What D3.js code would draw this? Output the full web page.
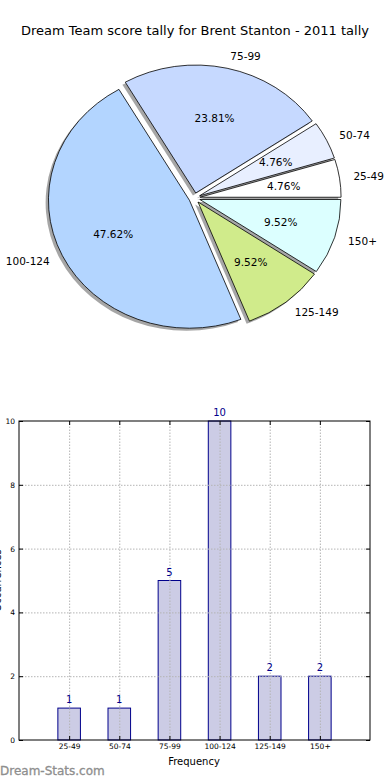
<!DOCTYPE html>
<html>
<head>
<meta charset="utf-8">
<script src="https://cdn.jsdelivr.net/npm/d3@7"></script>
<style>
  body { margin: 0; background: #fff; }
  svg { display: block; font-family: "DejaVu Sans", sans-serif; }
</style>
</head>
<body>
<svg id="chart"></svg>
<script>
// data
const categories = ["25-49", "50-74", "75-99", "100-124", "125-149", "150+"];
const counts = [1, 1, 5, 10, 2, 2];
const sliceColors = ["#ffffff", "#e8efff", "#c6d9ff", "#b3d5ff", "#d0eb8b", "#dcffff"];
const yTicks = [0, 2, 4, 6, 8, 10];

const width = 390;
const height = 780;

const svg = d3.select("#chart").attr("width", width).attr("height", height);

// title
svg.append("text")
  .attr("x", 195)
  .attr("y", 35)
  .attr("text-anchor", "middle")
  .attr("font-size", "13px")
  .attr("fill", "#000")
  .text("Dream Team score tally for Brent Stanton - 2011 tally");

/* ---------- pie ---------- */
const pieCx = 194.5, pieCy = 198;
const rx = 141, ry = 128;
const explode = 0.04;
const total = d3.sum(counts);

// start at 3 o'clock and go counter-clockwise, like matplotlib
const pie = d3.pie().sort(null).startAngle(Math.PI / 2).endAngle(Math.PI / 2 - 2 * Math.PI);
const arcs = pie(counts);
const arc = d3.arc().innerRadius(0).outerRadius(1);

const dir = d => {
  const a = (d.startAngle + d.endAngle) / 2;
  return [Math.sin(a), -Math.cos(a)];
};

const pieG = svg.append("g").attr("transform", `translate(${pieCx},${pieCy}) scale(${rx},${ry})`);

// shadows first, under every wedge
pieG.selectAll(".shadow")
  .data(arcs)
  .enter()
  .append("path")
  .attr("class", "shadow")
  .attr("transform", d => {
    const [ux, uy] = dir(d);
    return `translate(${ux * explode - 0.02},${uy * explode + 0.02})`;
  })
  .attr("d", arc)
  .attr("fill", "#4d4d4d")
  .attr("fill-opacity", 0.5);

pieG.selectAll(".wedge")
  .data(arcs)
  .enter()
  .append("path")
  .attr("class", "wedge")
  .attr("transform", d => {
    const [ux, uy] = dir(d);
    return `translate(${ux * explode},${uy * explode})`;
  })
  .attr("d", arc)
  .attr("fill", (d, i) => sliceColors[i])
  .attr("stroke", "#000")
  .attr("stroke-width", 0.8)
  .attr("vector-effect", "non-scaling-stroke");

// outer labels
svg.selectAll(".pie-label")
  .data(arcs)
  .enter()
  .append("text")
  .attr("class", "pie-label")
  .attr("x", d => pieCx + dir(d)[0] * (1.1 + explode) * rx)
  .attr("y", d => pieCy + dir(d)[1] * (1.1 + explode) * ry)
  .attr("text-anchor", d => dir(d)[0] > 0 ? "start" : "end")
  .attr("dominant-baseline", "central")
  .attr("font-size", "10.5px")
  .text((d, i) => categories[i]);

// percentages
svg.selectAll(".pct-label")
  .data(arcs)
  .enter()
  .append("text")
  .attr("class", "pct-label")
  .attr("x", d => pieCx + dir(d)[0] * (0.6 + explode) * rx)
  .attr("y", d => pieCy + dir(d)[1] * (0.6 + explode) * ry)
  .attr("text-anchor", "middle")
  .attr("dominant-baseline", "central")
  .attr("font-size", "10.5px")
  .text(d => `${(d.value / total * 100).toFixed(2)}%`);

/* ---------- bar chart ---------- */
const plot = { left: 19, right: 370, top: 421, bottom: 740 };

const xScale = d3.scaleLinear().domain([0, 7]).range([plot.left, plot.right]);
const yScale = d3.scaleLinear().domain([0, 10]).range([plot.bottom, plot.top]);
const barW = xScale(0.45) - xScale(0);

const barG = svg.append("g");

barG.selectAll(".bar")
  .data(counts)
  .enter()
  .append("rect")
  .attr("class", "bar")
  .attr("x", (d, i) => xScale(i + 1) - barW / 2)
  .attr("y", d => yScale(d))
  .attr("width", barW)
  .attr("height", d => yScale(0) - yScale(d))
  .attr("fill", "#cccce5")
  .attr("stroke", "#00008b")
  .attr("stroke-width", 1);

// grid lines on top of the bars
barG.append("g")
  .attr("transform", `translate(0,${plot.bottom})`)
  .call(d3.axisBottom(xScale)
    .tickValues(d3.range(1, 7))
    .tickSize(-(plot.bottom - plot.top))
    .tickFormat(""))
  .call(g => g.select(".domain").remove())
  .call(g => g.selectAll("line")
    .attr("stroke", "#b4b4b4")
    .attr("stroke-dasharray", "1.5,1.5"));

barG.append("g")
  .attr("transform", `translate(${plot.left},0)`)
  .call(d3.axisLeft(yScale)
    .tickValues(yTicks.slice(1, -1))
    .tickSize(-(plot.right - plot.left))
    .tickFormat(""))
  .call(g => g.select(".domain").remove())
  .call(g => g.selectAll("line")
    .attr("stroke", "#b4b4b4")
    .attr("stroke-dasharray", "1.5,1.5"));

// frame
barG.append("rect")
  .attr("x", plot.left)
  .attr("y", plot.top)
  .attr("width", plot.right - plot.left)
  .attr("height", plot.bottom - plot.top)
  .attr("fill", "none")
  .attr("stroke", "#000")
  .attr("stroke-width", 1);

// y axis (ticks point inward)
barG.append("g")
  .attr("transform", `translate(${plot.left},0)`)
  .call(d3.axisLeft(yScale).tickValues(yTicks).tickSizeInner(-4).tickSizeOuter(0).tickPadding(4))
  .call(g => g.select(".domain").remove())
  .call(g => g.selectAll("text").attr("font-size", "7.5px").attr("font-family", "DejaVu Sans").attr("fill", "#000"));

barG.append("g")
  .attr("transform", `translate(${plot.right},0)`)
  .call(d3.axisRight(yScale).tickValues(yTicks).tickSizeInner(-4).tickSizeOuter(0).tickFormat(""))
  .call(g => g.select(".domain").remove());

// x axis
barG.append("g")
  .attr("transform", `translate(0,${plot.bottom})`)
  .call(d3.axisBottom(xScale)
    .tickValues(d3.range(1, 7))
    .tickSizeInner(-4)
    .tickSizeOuter(0)
    .tickPadding(4)
    .tickFormat(d => categories[d - 1]))
  .call(g => g.select(".domain").remove())
  .call(g => g.selectAll("text").attr("font-size", "7.5px").attr("font-family", "DejaVu Sans").attr("fill", "#000"));

barG.append("g")
  .attr("transform", `translate(0,${plot.top})`)
  .call(d3.axisTop(xScale).tickValues(d3.range(1, 7)).tickSizeInner(-4).tickSizeOuter(0).tickFormat(""))
  .call(g => g.select(".domain").remove());

// value labels
barG.selectAll(".value-label")
  .data(counts)
  .enter()
  .append("text")
  .attr("class", "value-label")
  .attr("x", (d, i) => xScale(i + 1))
  .attr("y", d => yScale(d) - 5)
  .attr("text-anchor", "middle")
  .attr("font-size", "10px")
  .attr("fill", "#00008b")
  .text(d => d);

// axis labels
barG.append("text")
  .attr("x", 194)
  .attr("y", 765)
  .attr("text-anchor", "middle")
  .attr("font-size", "10px")
  .text("Frequency");

// y label sits mostly off the left edge, as in the original
barG.append("text")
  .attr("transform", `translate(1,${(plot.top + plot.bottom) / 2}) rotate(-90)`)
  .attr("text-anchor", "middle")
  .attr("font-size", "10px")
  .text("Occurrences");

// watermark
svg.append("text")
  .attr("x", 0)
  .attr("y", 775)
  .attr("font-size", "12px")
  .attr("fill", "#8e8e8e")
  .attr("stroke", "#8e8e8e")
  .attr("stroke-width", 0.3)
  .text("Dream-Stats.com");
</script>
</body>
</html>
